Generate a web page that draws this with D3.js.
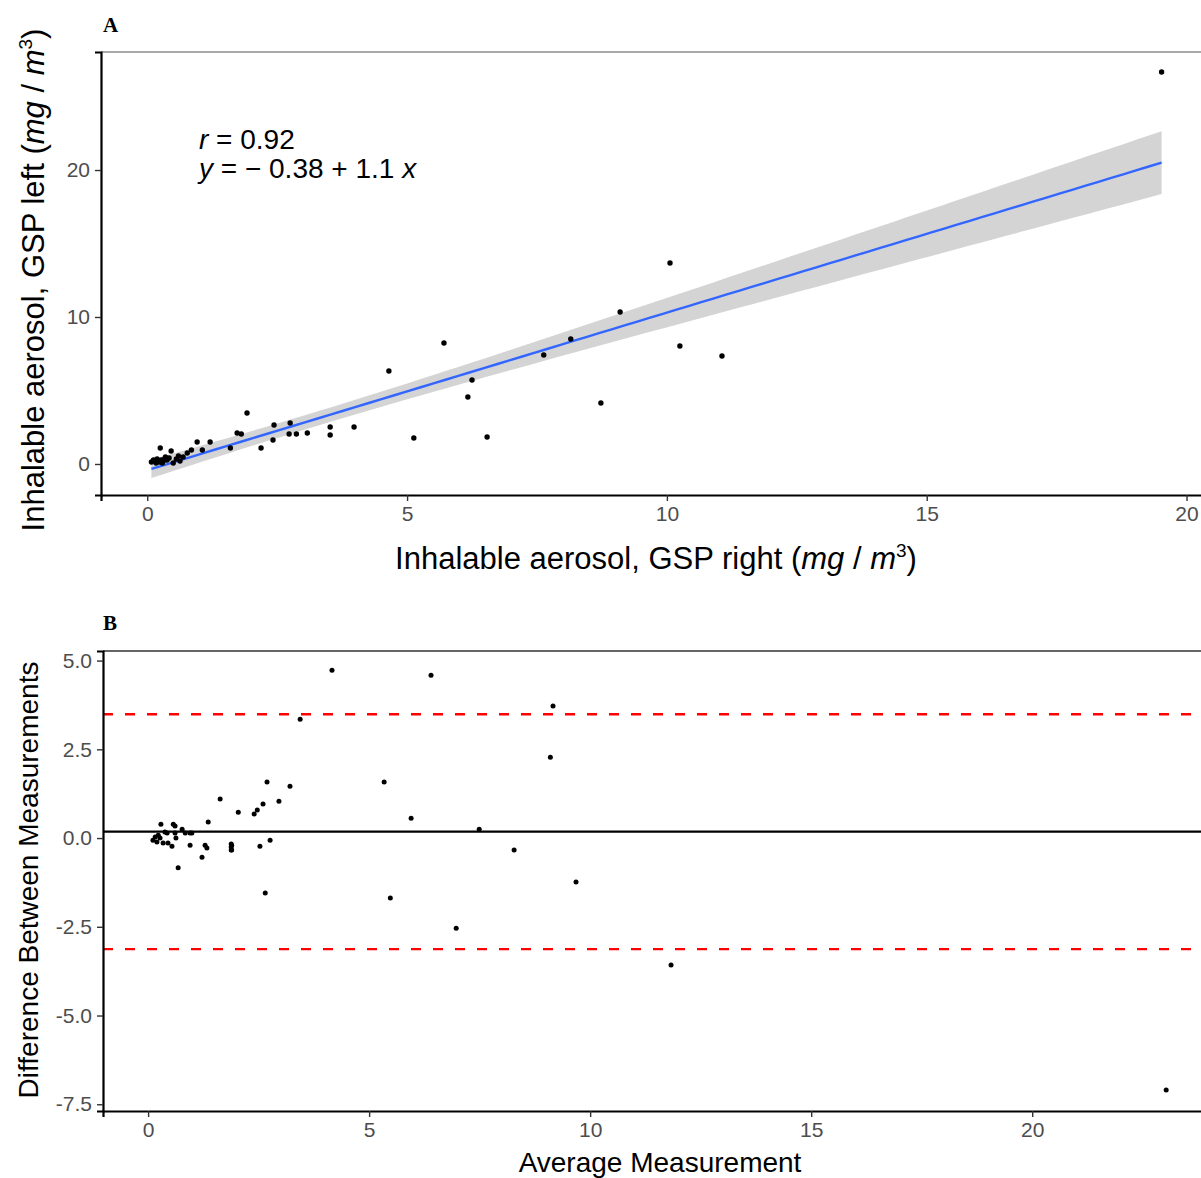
<!DOCTYPE html>
<html>
<head>
<meta charset="utf-8">
<script src="https://cdn.jsdelivr.net/npm/d3@7"></script>
<style>
  body { margin: 0; background: #fff; }
  svg { display: block; font-family: "Liberation Sans", Arial, sans-serif; }
</style>
</head>
<body>
<svg id="chart"></svg>
<script>
// panel A: GSP right (x) vs GSP left (y), mg/m3
const gspRight = [19.52, 10.06, 9.10, 10.25, 11.06, 8.15, 7.63, 8.73, 5.71, 4.65, 6.25, 6.17, 5.13, 6.54,
  3.98, 3.52, 3.52, 3.08, 2.87, 2.73, 2.75, 2.44, 2.42, 2.19, 1.92, 1.81, 1.73, 1.60, 1.21, 0.96,
  1.06, 0.85, 0.77, 0.60, 0.46, 0.50, 0.25, 0.35, 0.08, 0.12, 0.15, 0.19, 0.23, 0.27, 0.31, 0.33,
  0.38, 0.42, 0.17, 0.29, 0.56, 0.69, 0.63]
const gspLeft = [26.67, 13.67, 10.34, 8.03, 7.35, 8.50, 7.41, 4.15, 8.23, 6.33, 5.71, 4.56, 1.77, 1.84,
  2.52, 2.52, 1.97, 2.11, 2.04, 2.04, 2.79, 2.65, 1.63, 1.09, 3.47, 2.04, 2.11, 1.09, 1.50, 1.50,
  0.95, 0.95, 0.75, 0.54, 0.88, 0.07, 1.09, 0.48, 0.14, 0.27, 0.20, 0.34, 0.14, 0.27, 0.20, 0.34,
  0.27, 0.41, 0.07, 0.07, 0.34, 0.48, 0.20]

// panel B: Bland-Altman
const avgMeasure = [4.16, 6.40, 9.16, 3.44, 9.10, 5.34, 2.69, 3.21, 2.96, 5.95, 7.49, 8.28, 9.68, 5.48,
  2.65, 6.97, 11.83, 23.03, 1.63, 2.60, 2.47, 2.40, 2.04, 1.36, 0.99, 2.76, 2.53, 1.88, 1.88, 1.88,
  1.29, 1.33, 0.95, 1.22, 0.29, 0.57, 0.61, 0.77, 0.84, 0.95, 0.16, 0.23, 0.11, 0.20, 0.27, 0.34,
  0.38, 0.43, 0.45, 0.54, 0.61, 0.63, 0.68, 1.89, 1.89]
const diffMeasure = [4.73, 4.59, 3.72, 3.35, 2.28, 1.58, 1.58, 1.46, 1.04, 0.56, 0.25, -0.34, -1.24, -1.69,
  -1.55, -2.54, -3.58, -7.10, 1.10, 0.96, 0.79, 0.68, 0.73, 0.45, 0.14, -0.06, -0.23, -0.17, -0.25, -0.34,
  -0.20, -0.28, -0.20, -0.54, 0.39, 0.39, 0.34, 0.25, 0.14, 0.14, 0.03, 0.08, -0.06, -0.11, 0.00, -0.14,
  0.17, 0.14, -0.14, -0.23, 0.14, 0.00, -0.84, -0.20, -0.34]
const meanDiff = 0.18
const loaUpper = 3.49
const loaLower = -3.13

const xTicksA = [0, 5, 10, 15, 20]
const yTicksA = [0, 10, 20]
const xTicksB = [0, 5, 10, 15, 20]
const yTicksB = [5, 2.5, 0, -2.5, -5, -7.5]

const width = 1201
const height = 1178
const tickGrey = "#4D4D4D"

const svg = d3.select("#chart")
    .attr("width", width)
    .attr("height", height)

// linear fit + 95% band like geom_smooth(method = "lm")
const n = gspRight.length
const mx = d3.mean(gspRight)
const my = d3.mean(gspLeft)
const sxx = d3.sum(gspRight, d => (d - mx) ** 2)
const sxy = d3.sum(gspRight.map((d, i) => (d - mx) * (gspLeft[i] - my)))
const slope = sxy / sxx
const intercept = my - slope * mx
const sse = d3.sum(gspRight.map((d, i) => (gspLeft[i] - intercept - slope * d) ** 2))
const se = Math.sqrt(sse / (n - 2))
const tq = 2.008
const [xmin, xmax] = d3.extent(gspRight)
const fit = d3.range(80).map(i => {
    const x = xmin + (xmax - xmin) * i / 79
    const yhat = intercept + slope * x
    const half = tq * se * Math.sqrt(1 / n + (x - mx) ** 2 / sxx)
    return {x, y: yhat, lo: yhat - half, hi: yhat + half}
})

// ---------- panel A ----------
    const xA = d3.scaleLinear().domain([-0.89, 20.49]).range([101, 1212])
    const yA = d3.scaleLinear().domain([-2.11, 28.03]).range([495, 52])

    const gA = svg.append("g")

    gA.append("path")
        .datum(fit)
        .attr("fill", "#D4D4D4")
        .attr("d", d3.area().x(d => xA(d.x)).y0(d => yA(d.lo)).y1(d => yA(d.hi)))

    gA.append("path")
        .datum(fit)
        .attr("fill", "none")
        .attr("stroke", "#3366FF")
        .attr("stroke-width", 2.4)
        .attr("d", d3.line().x(d => xA(d.x)).y(d => yA(d.y)))

    gA.selectAll("circle")
        .data(gspRight.map((d, i) => ({x: d, y: gspLeft[i]})))
        .enter()
        .append("circle")
            .attr("cx", d => xA(d.x))
            .attr("cy", d => yA(d.y))
            .attr("r", 2.7)
            .attr("fill", "#000")

    // top frame line
    gA.append("line")
        .attr("x1", 101).attr("x2", width).attr("y1", 52).attr("y2", 52)
        .attr("stroke", "#555").attr("stroke-width", 1.2)

    const axA_x = gA.append("g")
        .attr("transform", "translate(0,495)")
        .call(d3.axisBottom(xA).tickValues(xTicksA).tickSize(6).tickPadding(5))
    const axA_y = gA.append("g")
        .attr("transform", "translate(101,0)")
        .call(d3.axisLeft(yA).tickValues(yTicksA).tickSize(6).tickPadding(5))

    // annotation
    const ann = gA.append("text")
        .attr("x", 199)
        .attr("font-size", 28)
        .attr("fill", "#000")
    ann.append("tspan").attr("x", 199).attr("y", 149).attr("font-style", "italic").text("r")
    ann.append("tspan").text(" = 0.92")
    ann.append("tspan").attr("x", 199).attr("y", 178).attr("font-style", "italic").text("y")
    ann.append("tspan").text(" = \u2212 0.38 + 1.1 ")
    ann.append("tspan").attr("font-style", "italic").text("x")

// ---------- panel B ----------
    const xB = d3.scaleLinear().domain([-1.02, 24.18]).range([103, 1217])
    const yB = d3.scaleLinear().domain([-7.69, 5.27]).range([1111, 651])

    const gB = svg.append("g")

    gB.append("line")
        .attr("x1", 103).attr("x2", width)
        .attr("y1", yB(meanDiff)).attr("y2", yB(meanDiff))
        .attr("stroke", "#000").attr("stroke-width", 2.4)

    gB.selectAll(".loa")
        .data([loaUpper, loaLower])
        .enter()
        .append("line")
            .attr("x1", 103).attr("x2", width)
            .attr("y1", d => yB(d)).attr("y2", d => yB(d))
            .attr("stroke", "#FF0000")
            .attr("stroke-width", 2.4)
            .attr("stroke-dasharray", "10,12")

    gB.selectAll("circle")
        .data(avgMeasure.map((d, i) => ({x: d, y: diffMeasure[i]})))
        .enter()
        .append("circle")
            .attr("cx", d => xB(d.x))
            .attr("cy", d => yB(d.y))
            .attr("r", 2.5)
            .attr("fill", "#000")

    gB.append("line")
        .attr("x1", 103).attr("x2", width).attr("y1", 651).attr("y2", 651)
        .attr("stroke", "#333").attr("stroke-width", 1.4)

    const axB_x = gB.append("g")
        .attr("transform", "translate(0,1111)")
        .call(d3.axisBottom(xB).tickValues(xTicksB).tickSize(6).tickPadding(5))
    const axB_y = gB.append("g")
        .attr("transform", "translate(103,0)")
        .call(d3.axisLeft(yB).tickValues(yTicksB)
            .tickFormat(d => d3.format(".1f")(d).replace("\u2212", "-"))
            .tickSize(6).tickPadding(5))

// axis styling (ggplot classic look)
    svg.selectAll(".domain").attr("stroke", "#000").attr("stroke-width", 2.2)
    svg.selectAll(".tick line").attr("stroke", "#333").attr("stroke-width", 1.4)
    svg.selectAll(".tick text")
        .attr("fill", tickGrey)
        .style("font-size", "21px")
        .style("font-family", "'Liberation Sans', Arial, sans-serif")

// titles
    const unitTitle = (sel, label) => {
        sel.append("tspan").text(label + " (")
        sel.append("tspan").attr("font-style", "italic").text("mg")
        sel.append("tspan").text(" / ")
        sel.append("tspan").attr("font-style", "italic").text("m")
        sel.append("tspan").attr("font-size", 19).attr("dy", -12).text("3")
        sel.append("tspan").attr("dy", 12).text(")")
    }

    const xTitleA = svg.append("text")
        .attr("x", 656).attr("y", 569)
        .attr("text-anchor", "middle")
        .attr("font-size", 31)
    unitTitle(xTitleA, "Inhalable aerosol, GSP right")

    const yTitleA = svg.append("text")
        .attr("transform", "translate(44,280) rotate(-90)")
        .attr("text-anchor", "middle")
        .attr("font-size", 31)
    unitTitle(yTitleA, "Inhalable aerosol, GSP left")

    svg.append("text")
        .attr("x", 660).attr("y", 1172)
        .attr("text-anchor", "middle")
        .attr("font-size", 28)
        .text("Average Measurement")

    svg.append("text")
        .attr("transform", "translate(38,880) rotate(-90)")
        .attr("text-anchor", "middle")
        .attr("font-size", 28)
        .text("Difference Between Measurements")

// panel tags
    svg.selectAll(".tag")
        .data([{t: "A", y: 32}, {t: "B", y: 630}])
        .enter()
        .append("text")
            .attr("x", 103)
            .attr("y", d => d.y)
            .attr("font-family", "'Liberation Serif', 'Times New Roman', serif")
            .attr("font-weight", "bold")
            .attr("font-size", 21)
            .text(d => d.t)
</script>
</body>
</html>
